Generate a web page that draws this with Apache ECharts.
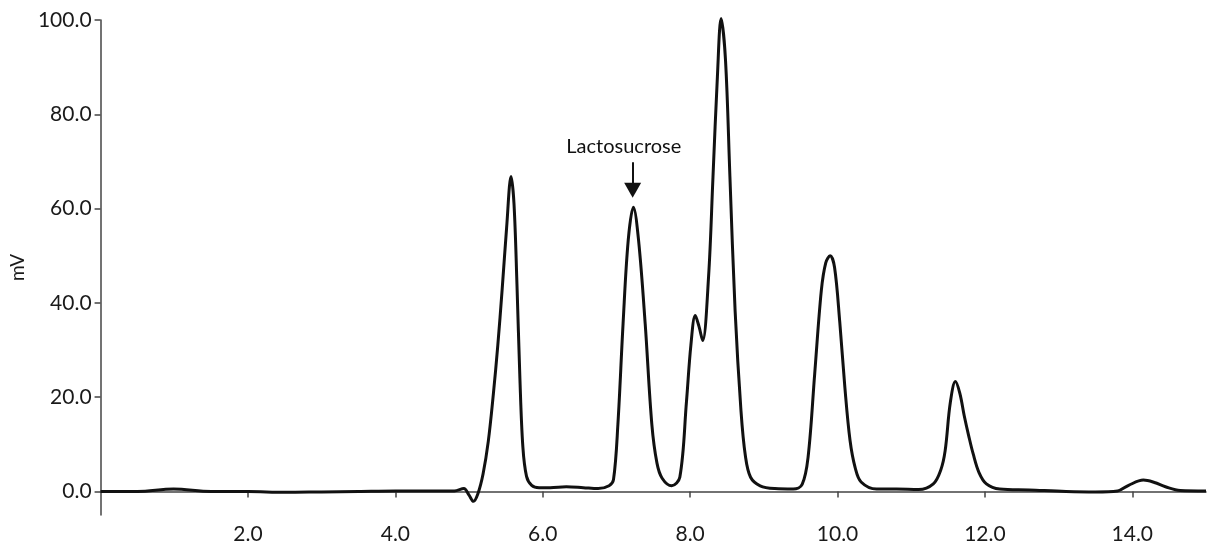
<!DOCTYPE html>
<html>
<head>
<meta charset="utf-8">
<script src="https://cdn.jsdelivr.net/npm/echarts@6/dist/echarts.min.js"></script>
<style>
html,body{margin:0;padding:0;background:#fff;}
#chart{width:1208px;height:553px;}
</style>
</head>
<body>
<div id="chart"></div>
<script>
// Retention time (min)
var times = [0, 0.5, 0.99, 1.5, 2.0, 2.5, 3.0, 3.5, 4.0, 4.5, 4.8, 4.93, 5.0, 5.06, 5.12, 5.19, 5.26, 5.33, 5.39, 5.45, 5.51, 5.57, 5.61, 5.65, 5.69, 5.73, 5.78, 5.85, 5.95, 6.1, 6.32, 6.55, 6.75, 6.9, 6.96, 7.02, 7.09, 7.16, 7.23, 7.30, 7.39, 7.48, 7.55, 7.62, 7.75, 7.86, 7.95, 8.01, 8.07, 8.12, 8.17, 8.25, 8.31, 8.37, 8.42, 8.48, 8.54, 8.61, 8.69, 8.75, 8.82, 8.95, 9.15, 9.4, 9.52, 9.60, 9.69, 9.78, 9.84, 9.90, 9.96, 10.03, 10.10, 10.17, 10.24, 10.32, 10.53, 10.8, 11.1, 11.30, 11.40, 11.46, 11.53, 11.60, 11.66, 11.72, 11.78, 11.84, 11.92, 12.02, 12.2, 12.6, 13.1, 13.5, 13.8, 13.95, 14.15, 14.3, 14.45, 14.65, 15.0];
// Detector signal (mV)
var signal = [0.0, 0.0, 0.5, 0.0, 0.0, -0.2, -0.1, 0.0, 0.1, 0.1, 0.1, 0.6, -0.8, -2.1, -0.5, 3.7, 10.5, 20.7, 31, 43, 56, 66.8, 61, 44, 24, 9.5, 3.2, 1.3, 0.8, 0.8, 1.0, 0.8, 0.6, 1.2, 2.5, 14.3, 35.6, 53.3, 60.3, 53.3, 35.6, 14.3, 6, 2.8, 1.2, 3.0, 19, 31, 37.3, 35, 32, 45.5, 66.7, 88, 100.3, 91.5, 66.7, 38.4, 17.1, 7.5, 3.0, 1.2, 0.6, 0.5, 1.5, 7.2, 24.9, 42.6, 48.5, 50, 47.5, 36, 22, 10.8, 5, 2.0, 0.5, 0.5, 0.4, 1.6, 4.5, 8.6, 18.8, 23.3, 20.8, 16.0, 11.8, 8.0, 4.0, 1.6, 0.5, 0.3, 0.0, -0.1, 0.1, 1.3, 2.4, 1.9, 1.0, 0.2, 0.1];
var xTicks = [2, 4, 6, 8, 10, 12, 14];
var yTicks = [0, 20, 40, 60, 80, 100];
var annotationText = 'Lactosucrose';
var annotationX = 7.22;

var points = times.map(function (t, i) { return [t, signal[i]]; });
var FONT = 'Lato';

var chart = echarts.init(document.getElementById('chart'), null, {renderer: 'canvas'});
chart.setOption({
  animation: false,
  backgroundColor: '#ffffff',
  grid: {left: 100, right: 2, top: 20, bottom: 38, containLabel: false},
  xAxis: {
    type: 'value', min: 0, max: 15,
    axisLine: {show: true, lineStyle: {color: '#444', width: 1.5}},
    axisTick: {show: true, length: 6, lineStyle: {color: '#444', width: 1.5}, customValues: xTicks},
    axisLabel: {customValues: xTicks, color: '#1a1a1a', fontSize: 21, fontFamily: FONT, margin: 9,
      formatter: function (v) { return v.toFixed(1); }},
    splitLine: {show: false}
  },
  yAxis: {
    type: 'value', min: -5, max: 100,
    name: 'mV', nameLocation: 'middle', nameGap: 73, nameRotate: 90,
    nameTextStyle: {color: '#1a1a1a', fontSize: 19, fontFamily: FONT},
    axisLine: {show: true, lineStyle: {color: '#444', width: 1.5}},
    axisTick: {show: true, length: 6, lineStyle: {color: '#444', width: 1.5}, customValues: yTicks},
    axisLabel: {customValues: yTicks, color: '#1a1a1a', fontSize: 21, fontFamily: FONT, margin: 9,
      formatter: function (v) { return v.toFixed(1); }},
    splitLine: {show: false}
  },
  series: [{
    type: 'line',
    data: points,
    smooth: 0.35,
    showSymbol: false,
    symbol: 'none',
    clip: false,
    lineStyle: {color: '#111', width: 3},
    markLine: {
      silent: true,
      symbol: ['none', 'triangle'],
      symbolSize: [17, 15],
      lineStyle: {color: '#111', width: 2, type: 'solid'},
      label: {show: false},
      data: [[{coord: [annotationX, 69.8]}, {coord: [annotationX, 63.9]}]]
    },
    markPoint: {
      silent: true,
      symbol: 'circle', symbolSize: 0,
      label: {show: true, position: 'inside', formatter: annotationText, color: '#111', fontSize: 20, fontFamily: FONT},
      data: [{coord: [7.1, 73.2]}]
    }
  }]
});
</script>
</body>
</html>
